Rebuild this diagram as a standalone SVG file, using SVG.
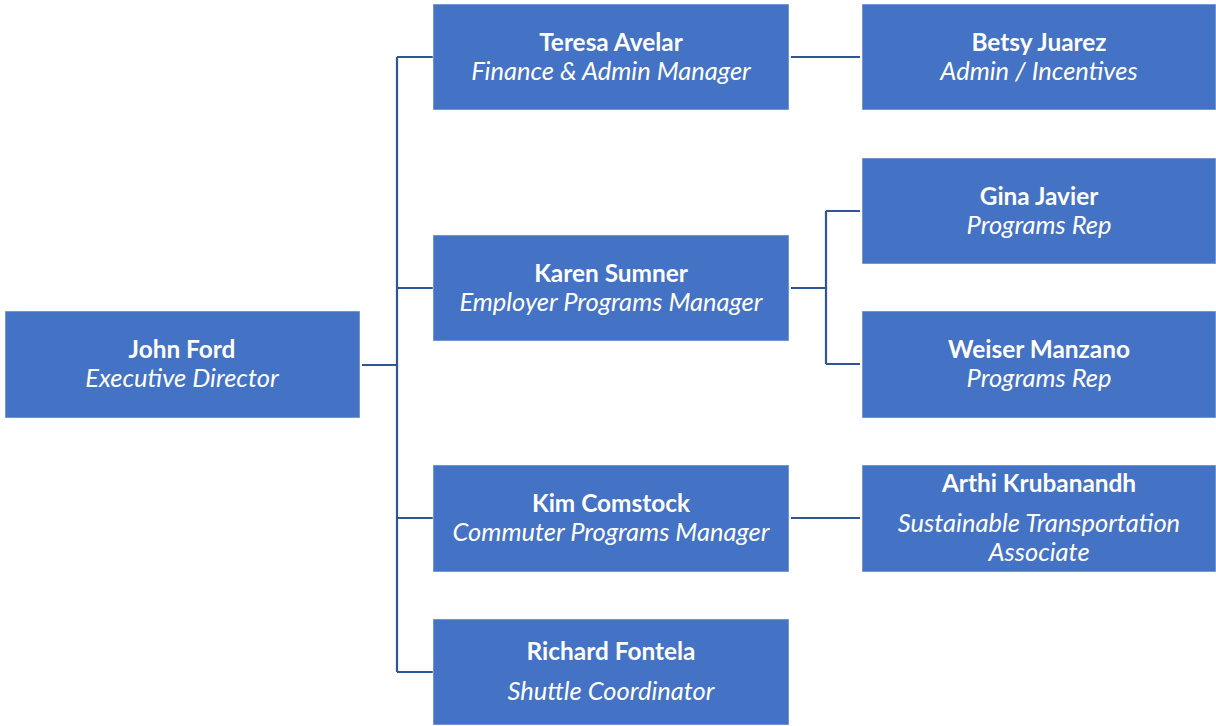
<svg xmlns="http://www.w3.org/2000/svg" width="1216" height="726" viewBox="0 0 1216 726">
<style>
.box{fill:#4472C4;stroke:#ffffff;stroke-opacity:0.5;stroke-width:1}
.n{font-family:Lato,"Liberation Sans",sans-serif;font-weight:bold;font-size:24.4px;fill:#fff;text-anchor:middle}
.t{font-family:Lato,"Liberation Sans",sans-serif;font-style:italic;font-size:25.5px;fill:#fff;text-anchor:middle}
.c{fill:none;stroke:#2F5597;stroke-width:2.2}
</style>
<rect width="1216" height="726" fill="#fff"/>
<g id="connectors">
<path class="c" d="M362 365H397M397 57V672M397 57H433M397 288H433M397 518H433M397 672H433"/>
<path class="c" d="M791 57H860"/>
<path class="c" d="M791 288H826M826 211V364M826 211H860M826 364H860"/>
<path class="c" d="M791 518H860"/>
</g>
<g id="john"><rect class="box" x="5" y="311" width="355" height="107"/><text class="n" x="182" y="358">John Ford</text><text class="t" x="182" y="387">Executive Director</text></g>
<g id="teresa"><rect class="box" x="433" y="4" width="356" height="106"/><text class="n" x="611" y="51">Teresa Avelar</text><text class="t" x="611" y="80">Finance &amp; Admin Manager</text></g>
<g id="karen"><rect class="box" x="433" y="235" width="356" height="106"/><text class="n" x="611" y="282">Karen Sumner</text><text class="t" x="611" y="311">Employer Programs Manager</text></g>
<g id="kim"><rect class="box" x="433" y="465" width="356" height="107"/><text class="n" x="611" y="512">Kim Comstock</text><text class="t" x="611" y="541">Commuter Programs Manager</text></g>
<g id="richard"><rect class="box" x="433" y="619" width="356" height="106"/><text class="n" x="611" y="660">Richard Fontela</text><text class="t" x="611" y="700">Shuttle Coordinator</text></g>
<g id="betsy"><rect class="box" x="862" y="4" width="354" height="106"/><text class="n" x="1039" y="51">Betsy Juarez</text><text class="t" x="1039" y="80">Admin / Incentives</text></g>
<g id="gina"><rect class="box" x="862" y="158" width="354" height="106"/><text class="n" x="1039" y="205">Gina Javier</text><text class="t" x="1039" y="234">Programs Rep</text></g>
<g id="weiser"><rect class="box" x="862" y="311" width="354" height="107"/><text class="n" x="1039" y="358">Weiser Manzano</text><text class="t" x="1039" y="387">Programs Rep</text></g>
<g id="arthi"><rect class="box" x="862" y="465" width="354" height="107"/><text class="n" x="1039" y="492">Arthi Krubanandh</text><text class="t" x="1039" y="532">Sustainable Transportation</text><text class="t" x="1039" y="561">Associate</text></g>
</svg>
